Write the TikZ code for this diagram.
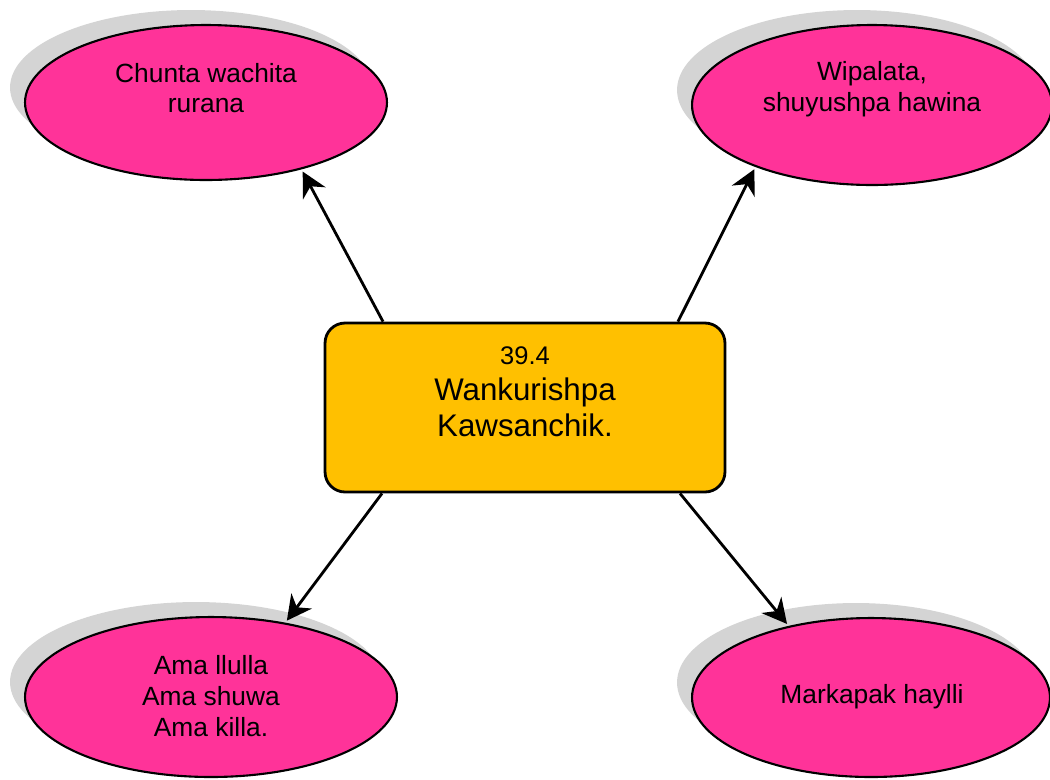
\documentclass[tikz,border=0pt]{standalone}
\usepackage{fontspec}
\setmainfont{Liberation Sans}
\usetikzlibrary{shapes.geometric,shadows,arrows.meta}
\definecolor{bubblePink}{HTML}{FF3399}
\definecolor{hubGold}{HTML}{FFC000}
\definecolor{shadowGrey}{HTML}{D4D4D4}
\newcommand{\bubbleSize}[0]{\fontsize{15}{17.4}\selectfont}

\begin{document}
\begin{tikzpicture}[x=0.02cm, y=-0.02cm]
  \tikzset{bubble/.style={ellipse, draw, line width=1.2pt, fill=bubblePink, inner sep=0pt,
      drop shadow={shadow xshift=-0.3cm, shadow yshift=0.3cm, fill=shadowGrey, opacity=1}},
    bubble text/.style={align=center, font=\bubbleSize},
    hub/.style={rectangle, rounded corners=0.4cm, draw, line width=1.6pt, fill=hubGold,
      minimum width=8cm, minimum height=3.38cm},
    spoke/.style={-{Stealth[length=14pt,width=14.5pt,inset=4.5pt]}, line width=1.6pt, shorten >=0.05cm}}
  \useasboundingbox (0,0) rectangle (1050,779);

  \node[hub] (hub) at (525,407.5) {};
  \node[align=center, font={\fontsize{17.8}{20.4}\selectfont}] (hubtext) at (525,392)
    {{\fontsize{14.5}{20.4}\selectfont 39.4}\\Wankurishpa\\Kawsanchik.};

  \node[bubble, minimum width=7.24cm, minimum height=3.1cm] (chunta) at (206,102.5) {};
  \node[bubble text] (chuntatext) at (206,88) {Chunta wachita\\rurana};
  \node[bubble, minimum width=7.2cm, minimum height=3.2cm] (wipala) at (872,105) {};
  \node[bubble text] (wipalatext) at (872,89) {Wipalata,\\shuyushpa hawina};
  \node[bubble, minimum width=7.44cm, minimum height=3.2cm] (ama) at (211,697) {};
  \node[bubble text] (amatext) at (211,696) {Ama llulla\\Ama shuwa\\Ama killa.};
  \node[bubble, minimum width=7.16cm, minimum height=3.18cm] (markapak) at (871,697.5) {};
  \node[bubble text] (markapaktext) at (872,697) {Markapak haylli};

  \draw[spoke] ([xshift=-2.84cm]hub.north) -- (chunta.-35);
  \draw[spoke] ([xshift=3.06cm]hub.north) -- (wipala.-152);
  \draw[spoke] ([xshift=-2.86cm]hub.south) -- (ama.45);
  \draw[spoke] ([xshift=3.1cm]hub.south) -- (markapak.139);
\end{tikzpicture}
\end{document}
